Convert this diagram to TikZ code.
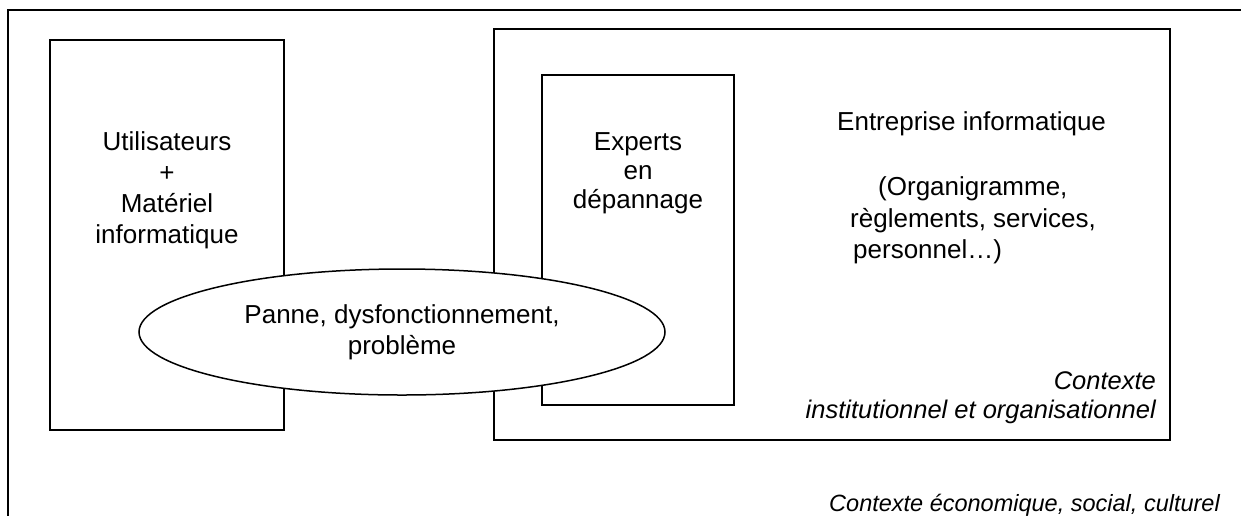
\documentclass[tikz,border=0pt]{standalone}
\usepackage{fontspec}
\setmainfont{Liberation Sans}
\usetikzlibrary{shapes.geometric}
\begin{document}
\begin{tikzpicture}[x=1pt,y=-1pt,
  boxline/.style={draw=black,line width=1.8pt},
  reg/.style={font=\fontsize{26}{31}\selectfont,inner sep=0pt,align=center},
  ital/.style={font=\fontsize{25.5}{29}\selectfont\itshape,inner sep=0pt},
  bubble/.style={ellipse,draw=black,line width=1.5pt,fill=white,
    minimum width=526pt,minimum height=126pt,inner sep=0pt,align=center,
    font=\fontsize{26}{31}\selectfont}]
\useasboundingbox (0,0) rectangle (1241,515);
% outer frame (left and top edges only visible)
\coordinate (fbl) at (8,530);
\coordinate (ftl) at (8,10);
\coordinate (ftr) at (1260,10);
\draw[boxline] (fbl) -- (ftl) -- (ftr);
% boxes
\draw[boxline] (50,40) rectangle (284,430);
\node[reg,anchor=north] (users) at (167,131) {Utilisateurs\\+\\Matériel\\informatique};
\draw[boxline] (494,29) rectangle (1170,440);
\draw[boxline] (542,75) rectangle (734,405);
\node[reg,anchor=north,font=\fontsize{26}{29}\selectfont] (experts) at (638,132) {Experts\\en\\dépannage};
\node[reg,anchor=base west] (ent) at (837,130) {Entreprise informatique};
\node[reg,anchor=base west] (org1) at (878,195) {(Organigramme,};
\node[reg,anchor=base west] (org2) at (850,227) {règlements, services,};
\node[reg,anchor=base west] (org3) at (853,258) {personnel…)};
\node[ital,align=right,anchor=north east] (ctx1) at (1156,371) {Contexte\\institutionnel et organisationnel};
\node[ital,anchor=base east,font=\fontsize{23.5}{28}\selectfont\itshape] (ctx2) at (1220,511) {Contexte économique, social, culturel};
% problem ellipse
\node[bubble] (panne) at (402,332) {Panne, dysfonctionnement,\\problème};
\end{tikzpicture}
\end{document}
